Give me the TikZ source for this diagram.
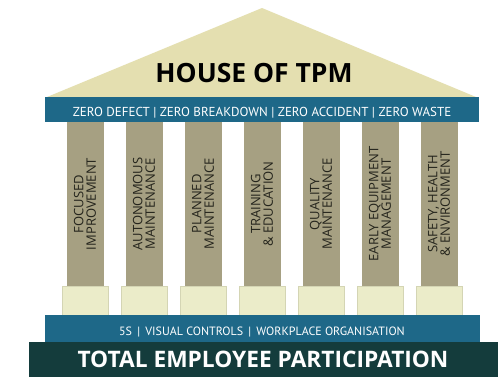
\documentclass[tikz,border=0pt]{standalone}
\usepackage{fontspec}
\setmainfont{PT Sans}
\newfontfamily\wideface{Open Sans}
\definecolor{roofc}{HTML}{E4DFB0}
\definecolor{bandc}{HTML}{1E6888}
\definecolor{colc}{HTML}{A6A082}
\definecolor{basec}{HTML}{EBECC9}
\definecolor{baseline}{HTML}{D4D5B4}
\definecolor{darkc}{HTML}{143C3C}
\definecolor{txtc}{HTML}{24241C}
\tikzset{
  pillar/.style={fill=colc, draw=none, rotate=90, minimum width=164pt, minimum height=37pt,
     inner sep=0pt, align=center, text=txtc, font=\wideface\fontsize{13}{12.5}\selectfont},
  plinth/.style={fill=basec, draw=baseline, line width=0.6pt, minimum width=46pt, minimum height=29pt, inner sep=0pt},
}
\begin{document}
\begin{tikzpicture}[x=1pt,y=-1pt]
\useasboundingbox (0,0) rectangle (500,383);
\fill[white] (0,0) rectangle (500,383);
% roof
\fill[roofc] (262,8) -- (476,97) -- (47,97) -- cycle;
\node[anchor=base, text=black, font=\wideface\fontsize{26.5}{26.5}\bfseries\selectfont] (title) at (254,82) {HOUSE OF TPM};
% top band
\fill[bandc] (45,97) rectangle (479,122);
\node[anchor=base, text=white, font=\fontsize{13}{13}\selectfont] (zero) at (262,116.5) {ZERO DEFECT | ZERO BREAKDOWN | ZERO ACCIDENT | ZERO WASTE};
% pillars
\foreach \i/\t in {0/{FOCUSED\\IMPROVEMENT},1/{AUTONOMOUS\\MAINTENANCE},2/{PLANNED\\MAINTENANCE},3/{TRAINING\\\& EDUCATION},4/{QUALITY\\MAINTENANCE},5/{EARLY EQUIPMENT\\MANAGEMENT},6/{SAFETY{,} HEALTH\\\& ENVIRONMENT}}{
  \node[pillar] (p\i) at ({85+59*\i},204) {\t};
  \node[plinth] (b\i) at ({85+59*\i},300.5) {};
}
% bottom band
\fill[bandc] (45,315) rectangle (480,342);
\node[anchor=base, text=white, font=\fontsize{12}{12}\selectfont] (fives) at (262,335) {5S \,|\, VISUAL CONTROLS \,|\, WORKPLACE ORGANISATION};
% foundation
\fill[darkc] (29,342) rectangle (498,377);
\node[anchor=base, text=white, font=\wideface\fontsize{22.7}{22.7}\bfseries\selectfont] (tep) at (263,367.5) {TOTAL EMPLOYEE PARTICIPATION};
\end{tikzpicture}
\end{document}
